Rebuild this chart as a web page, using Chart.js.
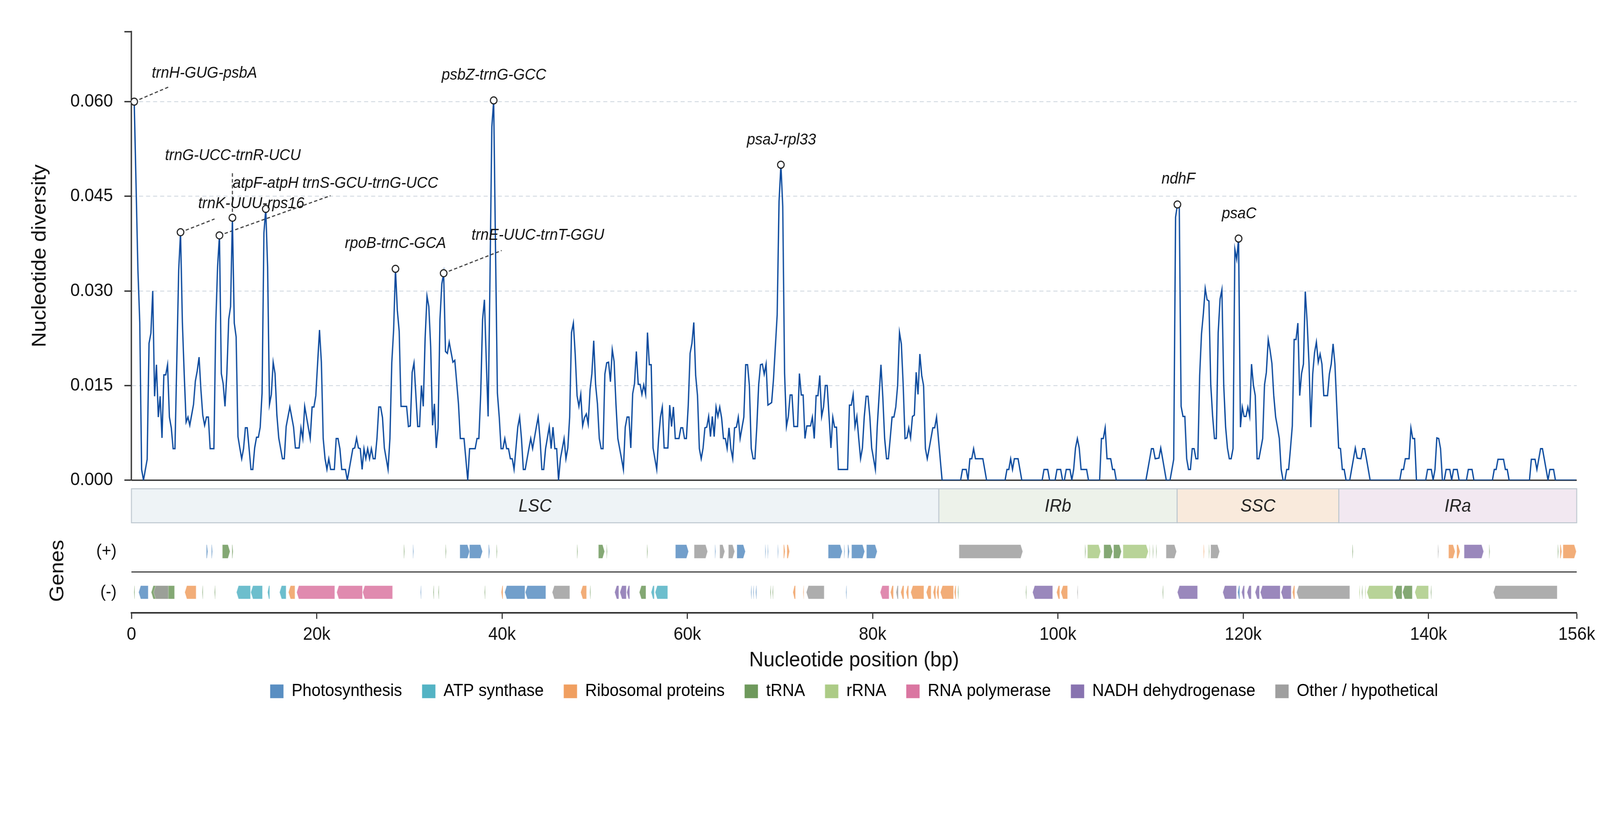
<!DOCTYPE html>
<html>
<head>
<meta charset="utf-8">
<title>Nucleotide diversity</title>
<script src="https://cdn.jsdelivr.net/npm/chart.js@4.4.1/dist/chart.umd.min.js"></script>
<style>
    html, body { margin: 0; padding: 0; background: #fff; overflow: hidden; }
    canvas { display: block; }
</style>
</head>
<body>
<canvas id="piChart" width="4322" height="2102" style="width:100vw;height:100vh"></canvas>
<script>
// Sliding window Pi: [window midpoint (bp), nucleotide diversity]
const piWindows = [
    [300,.0600],[700,.0333],[900,.0250],[1100,.0017],[1300,0],[1700,.0033],[1900,.0217],[2100,.0233],[2300,.0300],[2500,.0133],
    [2700,.0183],[2900,.0100],[3100,.0133],[3300,.0067],[3500,.0167],[3700,.0167],[3900,.0183],[4100,.0100],[4300,.0083],[4500,.0050],
    [4700,.0050],[5100,.0333],[5300,.0393],[5500,.0250],[5700,.0167],[5900,.0092],[6100,.0100],[6300,.0087],[6700,.0120],[6900,.0157],
    [7100,.0173],[7300,.0195],[7500,.0143],[7700,.0103],[7900,.0087],[8100,.0100],[8300,.0100],[8500,.0050],[8900,.0050],[9100,.0247],
    [9300,.0338],[9500,.0388],[9700,.0169],[9900,.0153],[10100,.0117],[10300,.0169],[10500,.0255],[10700,.0275],[10900,.0416],[11100,.0249],
    [11300,.0227],[11500,.0069],[11700,.0051],[11900,.0034],[12100,.0050],[12300,.0083],[12500,.0083],[12700,.0050],[12900,.0017],[13100,.0017],
    [13300,.0051],[13500,.0068],[13700,.0068],[13900,.0084],[14100,.0138],[14300,.0392],[14500,.0430],[14700,.0338],[14900,.0120],[15100,.0136],
    [15300,.0187],[15500,.0169],[15700,.0103],[15900,.0067],[16300,.0034],[16500,.0034],[16700,.0085],[17100,.0116],[17500,.0084],[17700,.0051],
    [18100,.0051],[18300,.0083],[18500,.0066],[18700,.0117],[19300,.0066],[19500,.0116],[19700,.0116],[19900,.0134],[20300,.0238],[20500,.0187],
    [20700,.0066],[20900,.0034],[21100,.0017],[21300,.0034],[21500,.0017],[21900,.0017],[22100,.0066],[22300,.0066],[22500,.0050],[22700,.0017],
    [23100,.0017],[23300,0],[23900,.0050],[24100,.0051],[24300,.0067],[24500,.0051],[24700,.0050],[24900,.0017],[25100,.0050],[25300,.0034],
    [25500,.0050],[25700,.0034],[25900,.0050],[26100,.0034],[26300,.0034],[26500,.0066],[26700,.0116],[26900,.0116],[27100,.0099],[27300,.0051],
    [27500,.0034],[27700,.0017],[27900,.0066],[28100,.0186],[28300,.0238],[28500,.0335],[28700,.0269],[28900,.0236],[29100,.0117],[29700,.0117],
    [29900,.0085],[30100,.0086],[30300,.0171],[30500,.0186],[30900,.0085],[31100,.0085],[31300,.0150],[31500,.0117],[31700,.0225],[31900,.0292],
    [32100,.0275],[32300,.0212],[32500,.0087],[32700,.0121],[32900,.0051],[33100,.0083],[33300,.0255],[33500,.0311],[33700,.0328],[33900,.0204],
    [34100,.0201],[34300,.0219],[34700,.0187],[34900,.0190],[35100,.0156],[35300,.0121],[35500,.0066],[35900,.0066],[36300,0],[36500,.0050],
    [37100,.0050],[37300,.0066],[37500,.0066],[37700,.0136],[37900,.0255],[38100,.0286],[38300,.0190],[38500,.0101],[38700,.0321],[38900,.0560],
    [39100,.0602],[39300,.0364],[39500,.0138],[39700,.0100],[39900,.0050],[40100,.0050],[40300,.0066],[40500,.0050],[40700,.0050],[40900,.0034],
    [41100,.0034],[41300,.0017],[41500,.0050],[41700,.0084],[41900,.0100],[42100,.0066],[42300,.0017],[42500,.0017],[42900,.0050],[43100,.0066],
    [43300,.0050],[43700,.0084],[43900,.0100],[44100,.0066],[44300,.0017],[44500,.0017],[44700,.0050],[45100,.0085],[45300,.0050],[45500,.0084],
    [45700,.0050],[45900,.0050],[46100,0],[46300,.0034],[46700,.0066],[46900,.0034],[47100,.0051],[47300,.0100],[47500,.0234],[47700,.0249],
    [47900,.0199],[48100,.0134],[48300,.0117],[48500,.0136],[48700,.0086],[48900,.0099],[49100,.0105],[49300,.0089],[49500,.0143],[49700,.0169],
    [49900,.0221],[50100,.0151],[50300,.0121],[50500,.0066],[50700,.0050],[50900,.0050],[51100,.0168],[51300,.0186],[51500,.0187],[51700,.0156],
    [51900,.0207],[52100,.0188],[52300,.0120],[52500,.0066],[52700,.0050],[52900,.0034],[53100,.0017],[53300,.0084],[53500,.0100],[53700,.0100],
    [53900,.0051],[54100,.0137],[54300,.0153],[54500,.0204],[54700,.0152],[54900,.0152],[55100,.0136],[55300,.0151],[55500,.0136],[55700,.0234],
    [55900,.0183],[56100,.0183],[56300,.0051],[56500,.0034],[56700,.0017],[56900,.0066],[57100,.0100],[57300,.0116],[57500,.0051],[57900,.0051],
    [58100,.0119],[58300,.0085],[58500,.0116],[58700,.0066],[59100,.0066],[59300,.0083],[59500,.0083],[59700,.0066],[59900,.0066],[60100,.0119],
    [60300,.0201],[60500,.0217],[60700,.0250],[60900,.0166],[61100,.0134],[61300,.0050],[61500,.0034],[61700,.0051],[61900,.0083],[62100,.0084],
    [62300,.0101],[62500,.0069],[62700,.0101],[62900,.0069],[63100,.0116],[63300,.0101],[63500,.0116],[63700,.0099],[63900,.0066],[64100,.0066],
    [64300,.0050],[64500,.0083],[64700,.0050],[64900,.0034],[65100,.0083],[65300,.0084],[65500,.0100],[65700,.0066],[66100,.0100],[66300,.0183],
    [66500,.0183],[66700,.0150],[66900,.0050],[67100,.0034],[67300,.0034],[67500,.0084],[67700,.0151],[67900,.0183],[68100,.0184],[68300,.0168],
    [68500,.0184],[68700,.0119],[69100,.0123],[69300,.0160],[69700,.0262],[69900,.0442],[70100,.0500],[70300,.0434],[70500,.0169],[70700,.0085],
    [70900,.0101],[71100,.0135],[71300,.0135],[71500,.0085],[71900,.0085],[72100,.0169],[72300,.0135],[72500,.0135],[72700,.0066],[72900,.0086],
    [73300,.0086],[73500,.0100],[73700,.0066],[73900,.0134],[74100,.0134],[74300,.0166],[74500,.0101],[74700,.0116],[74900,.0150],[75100,.0150],
    [75300,.0100],[75500,.0051],[75700,.0100],[75900,.0084],[76100,.0084],[76300,.0017],[77300,.0017],[77500,.0119],[77700,.0119],[77900,.0136],
    [78100,.0085],[78300,.0101],[78500,.0066],[78700,.0034],[78900,.0051],[79100,.0101],[79300,.0133],[79500,.0133],[79700,.0101],[79900,.0051],
    [80300,.0017],[80500,.0085],[80900,.0183],[81100,.0132],[81300,.0066],[81500,.0034],[81700,.0034],[81900,.0066],[82100,.0100],[82300,.0100],
    [82500,.0116],[82700,.0150],[82900,.0234],[83100,.0216],[83300,.0151],[83500,.0066],[83700,.0067],[83900,.0083],[84100,.0067],[84300,.0101],
    [84500,.0103],[84700,.0171],[84900,.0136],[85100,.0200],[85300,.0166],[85500,.0150],[85700,.0050],[85900,.0034],[86100,.0050],[86500,.0083],
    [86700,.0083],[86900,.0100],[87500,0],[89500,0],[89700,.0017],[90100,.0017],[90300,0],[90500,.0034],[90700,.0034],[90900,.0050],
    [91100,.0034],[91900,.0034],[92300,0],[94300,0],[94500,.0017],[94700,.0017],[94900,.0034],[95100,.0017],[95300,.0034],[95700,.0034],
    [96100,0],[98300,0],[98500,.0017],[98900,.0017],[99100,0],[99700,0],[99900,.0017],[100300,.0017],[100500,0],[100700,0],
    [100900,.0017],[101300,.0017],[101500,0],[101700,.0017],[101900,.0051],[102100,.0066],[102300,.0051],[102500,.0017],[103100,.0017],[103300,0],
    [104500,0],[104700,.0066],[104900,.0066],[105100,.0083],[105300,.0034],[105700,.0034],[105900,.0017],[106100,.0017],[106300,0],[109500,0],
    [110100,.0050],[110300,.0050],[110500,.0034],[110900,.0035],[111100,.0051],[111700,0],[112100,0],[112500,.0033],[112700,.0417],[112900,.0437],
    [113100,.0431],[113300,.0117],[113500,.0101],[113700,.0101],[113900,.0034],[114100,.0017],[114300,.0017],[114500,.0050],[114700,.0050],[114900,.0034],
    [115100,.0034],[115300,.0166],[115500,.0232],[115700,.0264],[115900,.0304],[116100,.0286],[116300,.0284],[116500,.0151],[116700,.0101],[116900,.0066],
    [117100,.0066],[117300,.0234],[117500,.0287],[117700,.0302],[117900,.0151],[118100,.0084],[118300,.0051],[118500,.0034],[118700,.0034],[118900,.0050],
    [119100,.0366],[119300,.0350],[119500,.0383],[119700,.0084],[119900,.0116],[120100,.0101],[120300,.0101],[120500,.0116],[120700,.0101],[120900,.0184],
    [121100,.0151],[121300,.0134],[121500,.0034],[121700,.0034],[122100,.0066],[122300,.0151],[122500,.0171],[122700,.0223],[122900,.0206],[123100,.0185],
    [123300,.0134],[123500,.0100],[123700,.0084],[123900,.0066],[124100,.0017],[124300,0],[124500,0],[124700,.0017],[124900,.0017],[125100,.0050],
    [125300,.0086],[125500,.0223],[125700,.0223],[125900,.0249],[126100,.0134],[126300,.0169],[126500,.0184],[126700,.0299],[126900,.0251],[127100,.0186],
    [127300,.0084],[127500,.0168],[127700,.0202],[127900,.0219],[128100,.0187],[128300,.0200],[128500,.0184],[128700,.0134],[129100,.0134],[129300,.0168],
    [129500,.0184],[129700,.0216],[129900,.0184],[130100,.0117],[130300,.0051],[130500,.0050],[130700,.0017],[130900,.0017],[131100,0],[131500,0],
    [131700,.0017],[131900,.0034],[132100,.0051],[132300,.0035],[132700,.0034],[132900,.0050],[133100,.0050],[133300,.0034],[133700,0],[136900,0],
    [137100,.0017],[137300,.0017],[137500,.0034],[137900,.0034],[138100,.0083],[138300,.0066],[138500,.0066],[138700,0],[139700,0],[139900,.0017],
    [140300,.0017],[140500,0],[140700,.0017],[140900,.0067],[141100,.0066],[141300,.0050],[141500,0],[141700,0],[141900,.0017],[142300,.0017],
    [142500,0],[142700,.0017],[143100,.0017],[143300,0],[144100,0],[144300,.0017],[144700,.0017],[144900,0],[146900,0],[147100,.0017],
    [147300,.0017],[147500,.0033],[148100,.0033],[148300,.0017],[148500,.0017],[148700,0],[150900,0],[151100,.0033],[151500,.0033],[151700,.0017],
    [152100,.0050],[152300,.0050],[152900,0],[153100,.0017],[153500,.0017],[153700,0],[155900,0]
];

// Annotated hotspots (window midpoint) and their names
const peakPos = [300, 5300, 9500, 10900, 14500, 28500, 33700, 39100, 70100, 112900, 119500];
const peakNames = ['trnH-GUG-psbA', 'trnK-UUU-rps16', 'trnS-GCU-trnG-UCC', 'trnG-UCC-trnR-UCU', 'atpF-atpH',
    'rpoB-trnC-GCA', 'trnE-UUC-trnT-GGU', 'psbZ-trnG-GCC', 'psaJ-rpl33', 'ndhF', 'psaC'];

// Quadripartite structure
const regionNames = ['LSC', 'IRb', 'SSC', 'IRa'];
const regionStart = [0, 87150, 112870, 130320];
const regionEnd = [87150, 112870, 130320, 156000];

// Gene categories, genes as [start, end, category]
const categories = ['Photosynthesis', 'ATP synthase', 'Ribosomal proteins', 'tRNA', 'rRNA',
    'RNA polymerase', 'NADH dehydrogenase', 'Other / hypothetical'];
const plusGenes = [
    [8090, 8240, 0], [8640, 8750, 0], [9820, 10640, 3], [10860, 10970, 3], [29400, 29480, 3],
    [30380, 30460, 0], [33900, 33980, 3], [35450, 36490, 0], [36490, 37890, 0], [38550, 38670, 0],
    [39400, 39480, 3], [48100, 48180, 3], [50410, 51070, 3], [51280, 51360, 3], [55650, 55730, 3],
    [58720, 60130, 0], [60740, 62190, 7], [62980, 63060, 0], [63500, 64040, 7], [64440, 65110, 7],
    [65350, 66260, 0], [68400, 68470, 0], [68670, 68740, 0], [69760, 69830, 0], [70390, 70560, 2],
    [70760, 71030, 2], [75210, 76720, 0], [76920, 77000, 0], [77320, 77490, 0], [77730, 79140, 0],
    [79340, 80490, 0], [89330, 96200, 7], [102920, 103000, 3], [103200, 104610, 4], [104960, 105910, 3],
    [106010, 106850, 3], [107030, 109750, 4], [109880, 109950, 4], [110240, 110310, 3], [110600, 110670, 3],
    [111680, 112800, 7], [115720, 115800, 2], [116290, 116360, 3], [116500, 117450, 7], [131780, 131860, 3],
    [141010, 141090, 7], [142170, 142870, 2], [143050, 143400, 2], [143850, 145950, 6], [146540, 146620, 3],
    [153950, 154030, 3], [154200, 154380, 2], [154520, 155950, 2]
];
const minusGenes = [
    [280, 360, 3], [780, 1810, 0], [2140, 4650, 3], [2400, 3990, 7], [5760, 6980, 2],
    [7640, 7720, 3], [8970, 9050, 3], [11340, 12850, 1], [12890, 14140, 1], [14700, 14920, 1],
    [15990, 16690, 1], [16950, 17650, 2], [17840, 21940, 5], [22160, 24930, 5], [24960, 28180, 5],
    [31200, 31280, 0], [32570, 32650, 3], [33120, 33200, 3], [38110, 38190, 3], [39920, 40100, 2],
    [40290, 42470, 0], [42510, 44720, 0], [45420, 47310, 7], [48490, 49120, 2], [49480, 49560, 3],
    [52160, 52600, 6], [52730, 53410, 6], [53470, 53780, 6], [54820, 55530, 3], [56100, 56430, 1],
    [56530, 57880, 1], [66860, 66940, 0], [67100, 67180, 0], [67380, 67480, 0], [68950, 69030, 3],
    [69190, 69270, 3], [71400, 71670, 2], [72500, 72580, 2], [72850, 74770, 7], [77120, 77200, 0],
    [80820, 81770, 5], [81930, 82240, 2], [82540, 82770, 7], [83040, 83380, 2], [83620, 83880, 2],
    [84120, 85530, 2], [85800, 86310, 2], [86540, 86810, 2], [86910, 87150, 2], [87320, 88730, 2],
    [88830, 89000, 2], [89190, 89270, 3], [96530, 96610, 3], [97270, 99430, 6], [99860, 100200, 2],
    [100330, 101040, 2], [102080, 102160, 7], [111290, 111370, 3], [112900, 115070, 6], [117800, 119270, 6],
    [119410, 119620, 0], [119830, 120140, 6], [120420, 120870, 6], [121290, 121750, 6], [121850, 123990, 6],
    [124090, 125180, 6], [125320, 125560, 2], [125770, 131500, 7], [132520, 132600, 4], [132800, 132880, 3],
    [133150, 133230, 4], [133360, 136160, 4], [136330, 137140, 3], [137200, 138250, 3], [138530, 140000, 4],
    [140240, 140320, 3], [147000, 153890, 7]
];

const xTicks = [0, 20000, 40000, 60000, 80000, 100000, 120000, 140000, 156000];
const yTicks = [0, 0.015, 0.03, 0.045, 0.06];
const yTop = 0.0711;

// ---- styling ----
const FONT = "'Liberation Sans', Arial, sans-serif";
const catColors = ['#598ec2', '#53b3c4', '#f09f60', '#6e995c', '#accb86', '#da76a1', '#8873b0', '#9f9f9f'];
const regionFill = ['#eef3f6', '#edf2ea', '#f9eadc', '#f2e8f1'];
// where each hotspot name sits: [x bp, y, leader end x, leader end y]
const labelSpots = [
    [7880, 0.0645, 3975, 0.0623],
    [12930, 0.0438, 8970, 0.0414],
    [25780, 0.0470, 21490, 0.0451],
    [10950, 0.0514, 10900, 0.0490],
    [14480, 0.0470, null, null],
    [28500, 0.0375, null, null],
    [43870, 0.0388, 39960, 0.0364],
    [39125, 0.0642, null, null],
    [70160, 0.0539, null, null],
    [113000, 0.0477, null, null],
    [119560, 0.0422, null, null]
];

const piAt = pos => piWindows.find(w => w[0] === pos)[1];

// regions, gene arrows, leaders and names drawn on the chart's own scales
const trackPlugin = {
    id: 'tracks',
    beforeDraw(chart) {
        const ctx = chart.ctx;
        ctx.save();
        ctx.fillStyle = '#fff';
        ctx.fillRect(0, 0, chart.width, chart.height);
        ctx.restore();
    },
    beforeDatasetsDraw(chart) {
        const {ctx, chartArea: area, scales: {x, y, yR, yG}} = chart;
        ctx.save();

        // genome regions
        const rTop = yR.getPixelForValue(22), rBot = yR.getPixelForValue(109);
        regionNames.forEach((name, i) => {
            const a = x.getPixelForValue(regionStart[i]);
            const b = x.getPixelForValue(regionEnd[i]);
            ctx.fillStyle = regionFill[i];
            ctx.fillRect(a, rTop, b - a, rBot - rTop);
            ctx.strokeStyle = '#bdc7cf';
            ctx.lineWidth = 2.5;
            ctx.strokeRect(a, rTop, b - a, rBot - rTop);
            ctx.fillStyle = '#222';
            ctx.font = 'italic 46px ' + FONT;
            ctx.textAlign = 'center';
            ctx.textBaseline = 'middle';
            ctx.fillText(name, (a + b) / 2, (rTop + rBot) / 2 + 2);
        });

        // gene arrows
        const headPx = x.getPixelForValue(220) - x.getPixelForValue(0);
        const drawGenes = (list, top, bot, dir) => {
            const mid = (top + bot) / 2;
            list.forEach(g => {
                const a = x.getPixelForValue(g[0]);
                const b = x.getPixelForValue(g[1]);
                const head = Math.min(headPx, (b - a) * 0.6);
                ctx.globalAlpha = 0.85;
                ctx.fillStyle = catColors[g[2]];
                ctx.beginPath();
                if (dir > 0) {
                    ctx.moveTo(a, top);
                    ctx.lineTo(b - head, top);
                    ctx.lineTo(b, mid);
                    ctx.lineTo(b - head, bot);
                    ctx.lineTo(a, bot);
                } else {
                    ctx.moveTo(b, top);
                    ctx.lineTo(a + head, top);
                    ctx.lineTo(a, mid);
                    ctx.lineTo(a + head, bot);
                    ctx.lineTo(b, bot);
                }
                ctx.closePath();
                ctx.fill();
                ctx.globalAlpha = 1;
                ctx.strokeStyle = 'rgba(255,255,255,0.5)';
                ctx.lineWidth = 1;
                ctx.stroke();
            });
        };
        drawGenes(plusGenes, yG.getPixelForValue(40), yG.getPixelForValue(75), 1);
        drawGenes(minusGenes, yG.getPixelForValue(145), yG.getPixelForValue(179), -1);

        // strand separator
        ctx.strokeStyle = '#333';
        ctx.lineWidth = 2.7;
        ctx.beginPath();
        ctx.moveTo(area.left, yG.getPixelForValue(110));
        ctx.lineTo(area.right, yG.getPixelForValue(110));
        ctx.stroke();

        // baseline of the diversity panel
        ctx.lineWidth = 3.5;
        ctx.beginPath();
        ctx.moveTo(area.left, y.getPixelForValue(0));
        ctx.lineTo(area.right, y.getPixelForValue(0));
        ctx.stroke();

        // leader lines
        ctx.setLineDash([9, 6]);
        ctx.strokeStyle = '#444';
        ctx.lineWidth = 3;
        labelSpots.forEach((s, i) => {
            if (s[2] === null) return;
            ctx.beginPath();
            ctx.moveTo(x.getPixelForValue(peakPos[i]), y.getPixelForValue(piAt(peakPos[i])));
            ctx.lineTo(x.getPixelForValue(s[2]), y.getPixelForValue(s[3]));
            ctx.stroke();
        });
        ctx.restore();
    },
    afterDatasetsDraw(chart) {
        const {ctx, scales: {x, y}} = chart;
        ctx.save();
        ctx.font = 'italic 40px ' + FONT;
        ctx.fillStyle = '#111';
        ctx.textAlign = 'center';
        ctx.textBaseline = 'middle';
        peakNames.forEach((name, i) => {
            ctx.fillText(name, x.getPixelForValue(labelSpots[i][0]), y.getPixelForValue(labelSpots[i][1]));
        });
        ctx.restore();
    }
};

document.addEventListener('DOMContentLoaded', function() {
    Chart.defaults.font.family = FONT;

    new Chart(document.getElementById('piChart'), {
        type: 'line',
        data: {
            datasets: [
                {
                    type: 'scatter',
                    label: 'hotspots',
                    data: peakPos.map(p => ({x: p, y: piAt(p)})),
                    pointRadius: 9,
                    pointBorderWidth: 3,
                    pointBackgroundColor: '#ffffff',
                    pointBorderColor: '#222222',
                    order: 0,
                    xAxisID: 'x',
                    yAxisID: 'y'
                },
                {
                    type: 'line',
                    label: 'Pi',
                    data: piWindows.map(w => ({x: w[0], y: w[1]})),
                    borderColor: '#0b4a9e',
                    borderWidth: 3.5,
                    pointRadius: 0,
                    tension: 0,
                    fill: false,
                    order: 1,
                    xAxisID: 'x',
                    yAxisID: 'y'
                }
            ]
        },
        options: {
            responsive: false,
            devicePixelRatio: 1,
            animation: false,
            events: [],
            layout: { padding: { top: 81, right: 61, bottom: 300, left: 0 } },
            plugins: {
                tooltip: { enabled: false },
                legend: {
                    position: 'bottom',
                    fullSize: false,
                    align: 'center',
                    labels: {
                        font: { size: 44, family: FONT },
                        color: '#111',
                        boxWidth: 36,
                        boxHeight: 35,
                        padding: 54,
                        generateLabels: () => categories.map((c, i) => ({
                            text: c,
                            fillStyle: catColors[i],
                            strokeStyle: catColors[i],
                            lineWidth: 0,
                            hidden: false,
                            datasetIndex: i
                        }))
                    }
                }
            },
            scales: {
                x: {
                    type: 'linear',
                    position: 'bottom',
                    min: 0,
                    max: 156000,
                    afterBuildTicks: s => { s.ticks = xTicks.map(v => ({value: v})); },
                    afterFit: s => { s.height = 125.5; },
                    ticks: {
                        callback: v => v === 0 ? '0' : (v / 1000) + 'k',
                        font: { size: 46, family: FONT },
                        color: '#111',
                        padding: 13,
                        maxRotation: 0,
                        autoSkip: false
                    },
                    grid: { drawOnChartArea: false, drawTicks: true, tickLength: 16, tickColor: '#333', tickWidth: 3 },
                    border: { display: true, color: '#333', width: 4 },
                    title: {
                        display: true,
                        text: 'Nucleotide position (bp)',
                        font: { size: 54, family: FONT },
                        color: '#111',
                        padding: { top: 0, bottom: -30 }
                    }
                },
                y: {
                    type: 'linear',
                    position: 'left',
                    stack: 'panels',
                    stackWeight: 1148,
                    weight: 3,
                    min: 0,
                    max: yTop,
                    afterBuildTicks: s => { s.ticks = yTicks.concat([yTop]).map(v => ({value: v})); },
                    afterFit: s => { s.width = 355; },
                    ticks: {
                        callback: v => v > 0.065 ? '' : v.toFixed(3),
                        font: { size: 46, family: FONT },
                        color: '#111',
                        padding: 31,
                        autoSkip: false
                    },
                    grid: {
                        color: c => (c.tick && (c.tick.value === 0 || c.tick.value > 0.065)) ? 'rgba(0,0,0,0)' : '#d5dce3',
                        lineWidth: 2.5,
                        drawTicks: true,
                        tickLength: 19,
                        tickColor: '#333',
                        tickWidth: 3.5
                    },
                    border: { display: true, color: '#333', width: 3.5, dash: [11, 8] },
                    title: {
                        display: true,
                        text: 'Nucleotide diversity',
                        font: { size: 54, family: FONT },
                        color: '#111',
                        padding: { top: 76 }
                    }
                },
                yR: {
                    type: 'linear',
                    position: 'left',
                    stack: 'panels',
                    stackWeight: 125,
                    weight: 2,
                    min: 0,
                    max: 125,
                    reverse: true,
                    afterFit: s => { s.width = 355; },
                    ticks: { display: false },
                    grid: { display: false },
                    border: { display: false }
                },
                yG: {
                    type: 'linear',
                    position: 'left',
                    stack: 'panels',
                    stackWeight: 214,
                    weight: 1,
                    min: 0,
                    max: 214,
                    reverse: true,
                    afterBuildTicks: s => { s.ticks = [{value: 57}, {value: 162}]; },
                    afterFit: s => { s.width = 355; },
                    ticks: {
                        callback: v => v < 100 ? '(+)' : '(-)',
                        font: { size: 44, family: FONT },
                        color: '#111',
                        padding: 32,
                        autoSkip: false
                    },
                    grid: { display: false },
                    border: { display: false },
                    title: {
                        display: true,
                        text: 'Genes',
                        font: { size: 54, family: FONT },
                        color: '#111',
                        padding: { top: 124 }
                    }
                }
            }
        },
        plugins: [trackPlugin]
    });
});
</script>
</body>
</html>
